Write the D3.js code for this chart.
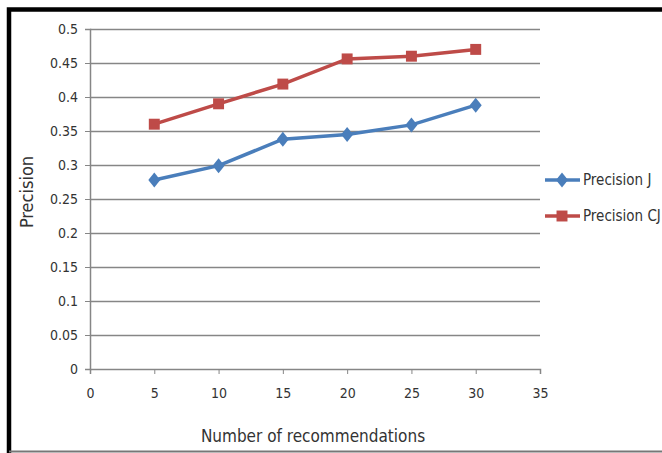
<!DOCTYPE html>
<html>
<head>
<meta charset="utf-8">
<script src="https://cdn.jsdelivr.net/npm/d3@7/dist/d3.min.js"></script>
<style>
  html, body { margin: 0; padding: 0; background: #fff; }
  svg { display: block; }
  text { font-family: "Liberation Sans Narrow", "DejaVu Sans Condensed", "Open Sans", sans-serif; fill: #333; }
</style>
</head>
<body>
<svg id="chart" width="662" height="453"></svg>
<script>
// Number of recommendations on the x axis
const recommendations = [5, 10, 15, 20, 25, 30];
// Precision values for each method
const precisionJ  = [0.278, 0.299, 0.338, 0.345, 0.359, 0.388];
const precisionCJ = [0.360, 0.390, 0.419, 0.456, 0.460, 0.470];
const seriesNames = ["Precision J", "Precision CJ"];
const xTicks = [0, 5, 10, 15, 20, 25, 30, 35];
const yTicks = [0, 0.05, 0.1, 0.15, 0.2, 0.25, 0.3, 0.35, 0.4, 0.45, 0.5];

const colors = ["#4A7EBB", "#BE4B48"];
const svg = d3.select("#chart");

// outer frame
svg.append("rect").attr("x", 9).attr("y", 9.5).attr("width", 670).attr("height", 500)
  .attr("fill", "none").attr("stroke", "#000").attr("stroke-width", 4.5);
svg.append("line").attr("x1", 9).attr("x2", 662).attr("y1", 451.5).attr("y2", 451.5)
  .attr("stroke", "#777").attr("stroke-width", 2);

const x = d3.scaleLinear().domain([0, 35]).range([90, 540]);
const y = d3.scaleLinear().domain([0, 0.5]).range([369, 29]);

// horizontal gridlines
svg.append("g").selectAll("line").data(yTicks.filter(d => d > 0)).join("line")
  .attr("x1", x(0)).attr("x2", x(35))
  .attr("y1", d => Math.round(y(d)) + 0.5).attr("y2", d => Math.round(y(d)) + 0.5)
  .attr("stroke", "#868686").attr("stroke-width", 1.5);

// y axis
const yAxis = svg.append("g").attr("transform", `translate(${x(0)},0)`)
  .call(d3.axisLeft(y).tickValues(yTicks).tickSize(5).tickPadding(7)
    .tickFormat(d => d === 0 ? "0" : String(+d.toFixed(2))));
yAxis.selectAll("path, line").attr("stroke", "#868686");
yAxis.selectAll("text").attr("font-size", 14).style("fill", "#333");

// x axis
const xAxis = svg.append("g").attr("transform", `translate(0,${y(0)})`)
  .call(d3.axisBottom(x).tickValues(xTicks).tickSize(5).tickPadding(14));
xAxis.selectAll("path, line").attr("stroke", "#868686");
xAxis.selectAll("text").attr("font-size", 14).style("fill", "#333");
svg.selectAll(".domain").attr("stroke-width", 1.5);

// axis titles
svg.append("text").attr("transform", "translate(33,192) rotate(-90)")
  .attr("text-anchor", "middle").attr("font-size", 18).text("Precision");
svg.append("text").attr("x", 313).attr("y", 442)
  .attr("text-anchor", "middle").attr("font-size", 17).text("Number of recommendations");

const line = d3.line().x(d => x(d[0])).y(d => y(d[1]));
// diamond marker slightly taller than wide
const diamond = "M0,-7.5L6,0L0,7.5L-6,0Z";
const square = d3.symbol().type(d3.symbolSquare).size(120)();
const data = [precisionJ, precisionCJ];

data.forEach((vals, i) => {
  const pts = recommendations.map((r, k) => [r, vals[k]]);
  svg.append("path").datum(pts).attr("d", line)
    .attr("fill", "none").attr("stroke", colors[i]).attr("stroke-width", 3.5);
  svg.append("g").selectAll("path").data(pts).join("path")
    .attr("transform", d => `translate(${x(d[0])},${y(d[1])})`)
    .attr("d", i === 0 ? diamond : square)
    .attr("fill", colors[i]);
});

// legend
const legend = svg.append("g");
seriesNames.forEach((name, i) => {
  const ly = 180 + i * 36;
  legend.append("line").attr("x1", 545).attr("x2", 580).attr("y1", ly).attr("y2", ly)
    .attr("stroke", colors[i]).attr("stroke-width", 3.5);
  legend.append("path").attr("transform", `translate(562,${ly})`)
    .attr("d", i === 0 ? diamond : square).attr("fill", colors[i]);
  legend.append("text").attr("x", 583).attr("y", ly + 5).attr("font-size", 15).text(name);
});
</script>
</body>
</html>
